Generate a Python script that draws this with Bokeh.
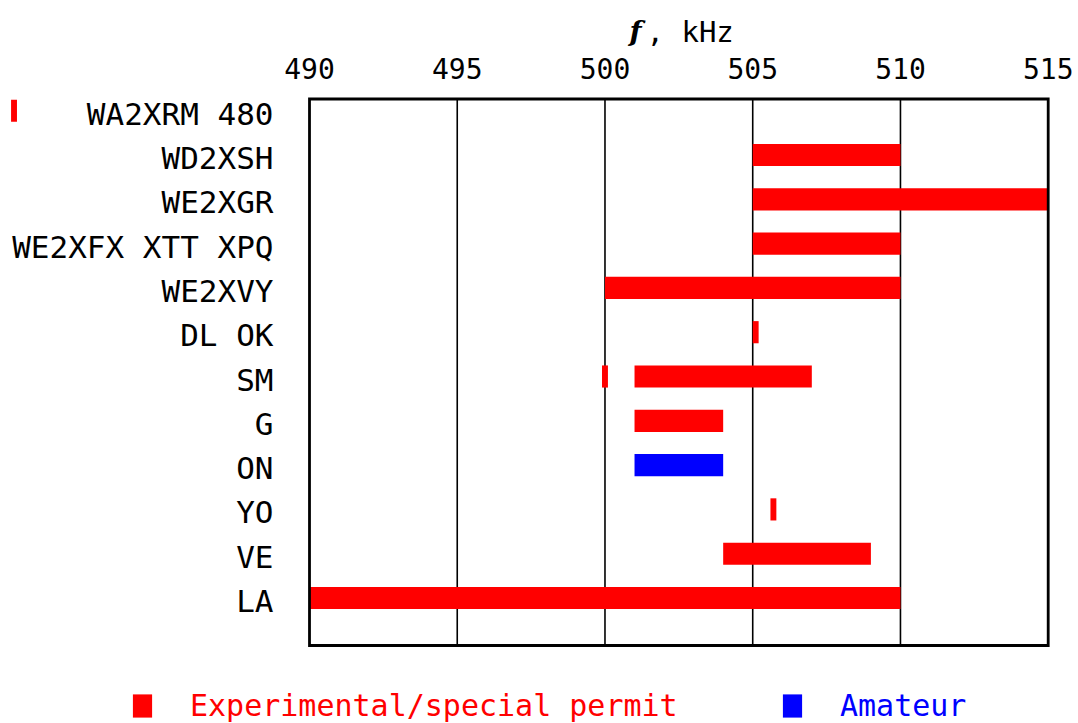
from bokeh.plotting import figure
from bokeh.models import Range1d, ColumnDataSource, Legend, LegendItem
from bokeh.core.properties import value
from bokeh.embed import file_html
from bokeh.resources import INLINE

# ---------------- data ----------------
stations = ["WA2XRM 480", "WD2XSH", "WE2XGR", "WE2XFX XTT XPQ", "WE2XVY",
            "DL OK", "SM", "G", "ON", "YO", "VE", "LA"]

exp_station = ["WA2XRM 480", "WD2XSH", "WE2XGR", "WE2XFX XTT XPQ", "WE2XVY",
               "DL OK", "SM", "SM", "G", "YO", "VE", "LA"]
exp_start = [479.9, 505, 505, 505, 500, 505.0, 499.9, 501, 501, 505.6, 504, 490]
exp_end = [480.1, 510, 515, 510, 510, 505.2, 500.1, 507, 504, 505.8, 509, 510]

am_station = ["ON"]
am_start = [501]
am_end = [504]

x_ticks = [490, 495, 500, 505, 510, 515]
x_min, x_max = 490, 515
grid_ticks = [495, 500, 505, 510]

# ---------------- layout ----------------
W, H = 1078, 723
FONT = "DejaVu Sans Mono"
px_per_khz = 29.548
x0 = 490 - 309 / px_per_khz
x1 = x0 + W / px_per_khz
row_h = 44.3
row0 = 110.2
y_top = (0 - row0) / row_h
y_bot = (H - row0) / row_h

def xpx(page_x):
    return x0 + page_x / px_per_khz

def ypx(page_y):
    return (page_y - row0) / row_h

p = figure(width=W, height=H, output_backend="svg", toolbar_location=None,
           x_range=Range1d(x0, x1), y_range=Range1d(y_bot, y_top),
           min_border=0, min_border_left=0, min_border_right=0,
           min_border_top=0, min_border_bottom=0)
p.axis.visible = False
p.grid.visible = False
p.outline_line_color = None
p.background_fill_color = "white"
p.border_fill_color = "white"

idx = {s: i for i, s in enumerate(stations)}

# box frame & grid
box_top, box_bot = ypx(98.5), ypx(645)
p.segment(x0=grid_ticks, x1=grid_ticks, y0=[box_top] * len(grid_ticks),
          y1=[box_bot] * len(grid_ticks), line_color="black", line_width=1.6)

# bars
exp_src = ColumnDataSource(dict(y=[idx[s] for s in exp_station], left=exp_start, right=exp_end))
am_src = ColumnDataSource(dict(y=[idx[s] for s in am_station], left=am_start, right=am_end))
r_exp = p.hbar(y="y", left="left", right="right", height=0.5, source=exp_src,
               fill_color="#ff0000", line_color=None)
r_am = p.hbar(y="y", left="left", right="right", height=0.5, source=am_src,
              fill_color="#0000ff", line_color=None)

p.quad(left=[x_min], right=[x_max], top=[box_top], bottom=[box_bot],
       fill_color=None, line_color="black", line_width=2.8, line_join="miter")

# row labels
p.text(x=[xpx(273)] * len(stations), y=list(range(len(stations))), text=stations,
       text_font=value(FONT), text_font_size="31px", text_align="right",
       text_baseline="middle", y_offset=3, text_color="black")

# tick labels (top)
p.text(x=x_ticks, y=[ypx(68)] * len(x_ticks), text=[str(t) for t in x_ticks],
       text_font=value(FONT), text_font_size="28px", text_align="center",
       text_baseline="middle", text_color="black")

# axis title
p.text(x=[xpx(635)], y=[ypx(31)], text=["f"], text_font=value("DejaVu Serif"),
       text_font_style="bold italic", text_font_size="28px", text_align="center",
       text_baseline="middle", text_color="black")
p.text(x=[xpx(646)], y=[ypx(31)], text=[", kHz"], text_font=value(FONT),
       text_font_size="29px", text_align="left",
       text_baseline="middle", text_color="black")

# legends
def make_legend(label, rend, color, x):
    lg = Legend(items=[LegendItem(label=label, renderers=[rend])], location=(x, 0),
                orientation="horizontal", padding=0, margin=0, spacing=0,
                border_line_color=None, background_fill_alpha=0,
                glyph_width=24, glyph_height=29, label_standoff=36,
                label_text_font=FONT, label_text_font_size="30px",
                label_text_color=color, label_height=22)
    p.add_layout(lg)

make_legend("Experimental/special permit", r_exp, "#ff0000", 130)
make_legend("Amateur", r_am, "#0000ff", 780)

open("out.html", "w").write(file_html(p, INLINE))
